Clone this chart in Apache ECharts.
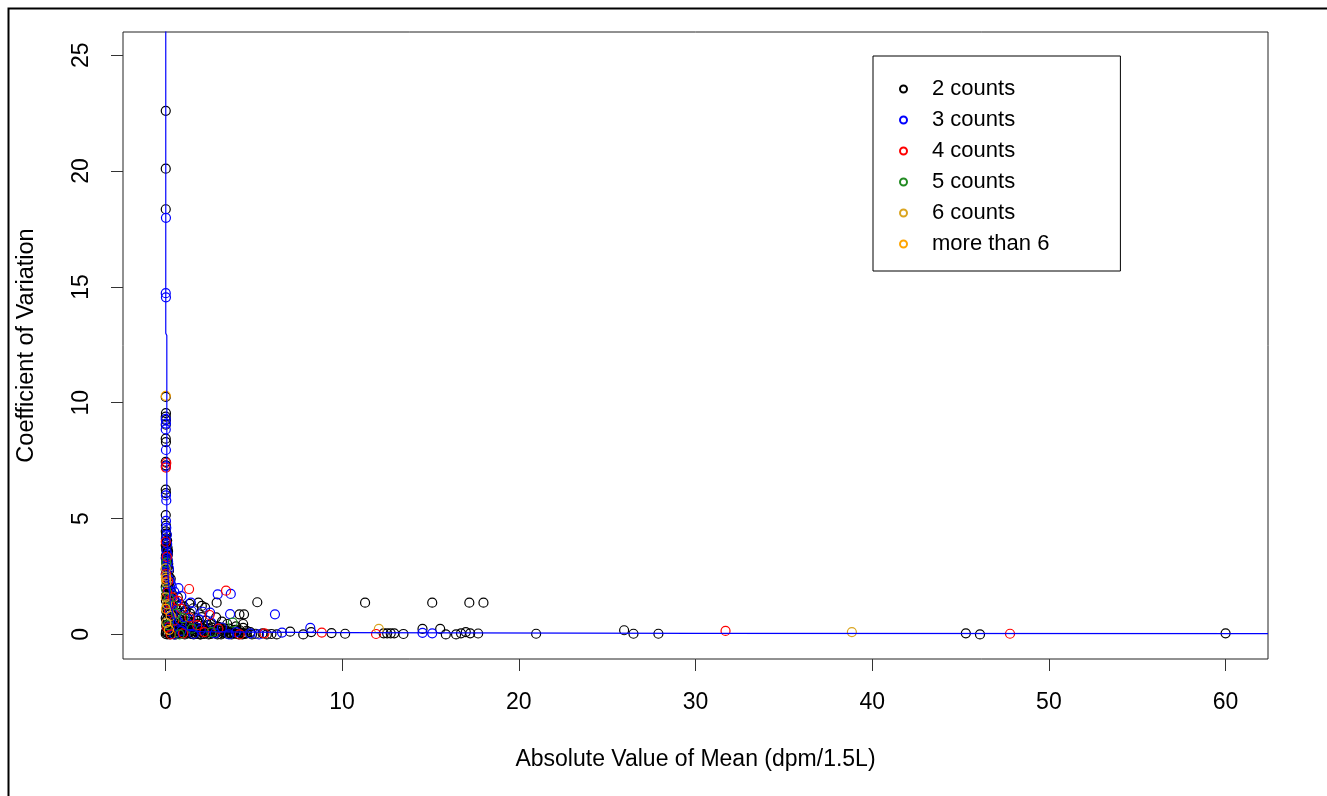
<!DOCTYPE html>
<html>
<head>
<meta charset="utf-8">
<script src="https://cdn.jsdelivr.net/npm/echarts@6/dist/echarts.min.js"></script>
<style>
html,body{margin:0;padding:0;background:#fff;}
#chart{width:1327px;height:796px;}
</style>
</head>
<body>
<div id="chart"></div>
<script>
// ---- data (x = |mean| dpm/1.5L, y = coefficient of variation) ----
const seriesNames = ['2 counts', '3 counts', '4 counts', '5 counts', '6 counts', 'more than 6'];
const xTicks = [0, 10, 20, 30, 40, 50, 60];
const yTicks = [0, 5, 10, 15, 20, 25];

const counts2 = [
  [0.02,22.6],[0.02,20.1],[0.02,18.35],[0.02,10.25],[0.03,9.55],[0.02,9.4],[0.03,9.25],[0.02,9.05],
  [0.02,8.45],[0.03,8.3],[0.02,7.45],[0.03,7.3],[0.02,6.25],[0.03,6.1],[0.02,5.15],[0.03,4.7],
  [0.02,4.45],[0.06,4.3],[0.03,4.15],[0.08,4.0],[0.02,3.85],[0.05,3.7],[0.1,3.55],[0.03,3.4],
  [0.12,3.25],[0.04,3.1],[0.15,2.95],[0.02,2.8],[0.1,2.65],[0.2,2.5],[0.05,2.35],[0.18,2.2],
  [0.02,2.05],[0.25,1.9],[0.08,1.75],[0.3,1.6],[0.03,1.45],[0.15,1.3],[0.35,1.15],[0.05,1.0],
  [0.22,0.85],[0.02,0.7],[0.12,0.55],[0.04,0.4],[0.18,0.25],[0.03,0.1],[0.1,0.0],
  [0.05,4.35],[0.1,4.05],[0.04,3.95],[0.12,3.75],[0.06,3.65],[0.14,3.45],[0.02,3.3],[0.09,3.15],
  [0.16,3.05],[0.06,2.9],[0.2,2.75],[0.12,2.55],[0.03,2.45],[0.24,2.3],[0.08,2.15],[0.28,2.0],
  [0.12,1.85],[0.04,1.7],[0.2,1.55],[0.32,1.4],[0.08,1.25],[0.26,1.1],[0.14,0.95],[0.4,0.8],
  [0.06,0.6],[0.3,0.45],[0.08,0.3],[0.22,0.15],[0.02,0.02],
  [0.3,0.62],[0.55,0.48],[0.8,0.66],[1.05,0.38],[1.3,0.55],[1.6,0.3],[1.9,0.47],[2.15,0.22],
  [2.4,0.4],[2.7,0.15],[3.0,0.33],[3.3,0.1],[3.6,0.25],[3.9,0.05],[4.2,0.18],[4.5,0.02],
  [4.8,0.1],[5.1,0.03],[0.15,0.3],[0.45,0.12],[0.7,0.25],[0.95,0.05],[1.2,0.18],[1.45,0.02],
  [1.75,0.12],[2.0,0.0],[2.3,0.08],[2.55,0.02],[2.85,0.05],[3.15,0.0],[3.45,0.04],[3.75,0.0],
  [4.05,0.02],[4.35,0.0],[0.25,0.0],[0.6,0.0],[0.85,0.1],[1.1,0.0],[1.35,0.08],[1.6,0.0],
  [1.85,0.03],[2.1,0.1],[0.4,0.85],[0.65,1.1],[0.9,0.85],[1.15,1.05],[0.2,1.3],[0.5,1.5],
  [0.35,1.8],[0.15,2.0],[0.6,0.75],[1.4,0.9],[1.7,0.7],[2.3,0.6],[2.6,0.45],[3.2,0.55],
  [3.5,0.45],[4.0,0.35],[4.4,0.28],[5.5,0.05],[5.74,0.0],[6.3,0.0],[6.0,0.02],[7.06,0.12],[7.8,0.0],
  [0.4,0.35],[0.65,0.12],[0.9,0.3],[1.15,0.45],[1.4,0.3],[1.65,0.15],[1.9,0.25],[2.2,0.35],
  [2.45,0.25],[2.75,0.3],[3.05,0.15],[3.35,0.25],[3.65,0.12],[3.95,0.2],[4.25,0.08],[0.5,0.0],
  [0.75,0.02],[1.0,0.15],[1.25,0.05],[1.5,0.12],[1.7,0.02],[1.95,0.0],[2.2,0.02],[2.45,0.0],
  [2.65,0.05],[2.95,0.0],[3.25,0.05],[3.55,0.02],[3.85,0.08],[4.15,0.0],[4.6,0.05],[4.9,0.0],
  [0.35,0.2],[0.55,0.3],[0.75,0.4],[1.0,0.55],[1.25,0.7],[1.55,0.5],[1.8,0.6],[2.05,0.75],
  [0.85,1.3],[1.05,1.2],[0.7,1.6],
  [0.15,0.05],[0.3,0.1],[0.45,0.22],[0.6,0.15],[0.7,0.05],[0.85,0.22],[1.05,0.28],[1.15,0.1],
  [1.3,0.2],[1.55,0.22],[1.75,0.3],[2.0,0.18],[2.1,0.28],[2.35,0.15],[2.55,0.12],[2.6,0.3],
  [2.8,0.2],[3.1,0.25],[3.4,0.15],[3.7,0.05],[4.1,0.12],[4.4,0.05],[0.05,0.15],[0.12,0.7],
  [0.5,0.65],[0.18,1.05],[0.1,1.55],[0.3,2.4],[0.02,2.6],[0.15,3.6],
  [1.87,1.37],[2.25,1.16],[2.06,1.23],[1.36,1.32],[1.58,1.13],[1.1,0.94],[2.87,0.74],[2.9,1.37],
  [5.2,1.39],[4.19,0.87],[4.45,0.87],[4.4,0.45],[4.6,0.16],[9.4,0.06],[10.17,0.03],
  [11.3,1.37],[15.1,1.37],[17.2,1.37],[18.0,1.37],[8.25,0.1],[12.35,0.05],[12.55,0.05],
  [12.75,0.05],[12.95,0.05],[13.47,0.02],[14.55,0.24],[15.55,0.24],[15.87,0.0],[16.45,0.0],
  [16.73,0.05],[17.0,0.1],[17.25,0.05],[17.7,0.04],[20.98,0.03],[25.96,0.18],[26.49,0.03],
  [27.9,0.03],[45.3,0.05],[46.1,0.0],[60.0,0.05]
];
const counts3 = [
  [0.03,17.98],[0.02,14.73],[0.03,14.55],[0.02,9.3],[0.03,9.1],[0.02,8.85],[0.03,7.96],[0.02,7.25],
  [0.03,6.0],[0.05,5.78],[0.03,4.9],[0.05,4.6],[0.08,4.3],[0.03,4.1],[0.1,3.9],[0.06,3.6],
  [0.12,3.45],[0.04,3.3],[0.15,3.15],[0.08,3.0],[0.2,2.85],[0.05,2.7],[0.1,2.5],[0.25,2.35],
  [0.3,2.2],[0.36,2.06],[0.15,1.95],[0.74,2.0],[0.5,1.85],[0.9,1.65],[0.3,1.55],[0.6,1.4],
  [1.44,1.37],[0.2,1.1],[0.8,1.2],[1.5,1.0],[2.1,0.98],[0.4,0.9],[1.1,0.75],[1.9,0.65],
  [0.7,0.55],[2.6,0.5],[1.4,0.4],[0.25,0.35],[3.2,0.3],[2.0,0.2],[0.9,0.15],[4.0,0.1],
  [2.8,0.05],[1.6,0.02],[0.5,0.0],[3.6,0.0],[4.8,0.05],[5.3,0.0],[6.6,0.08],
  [2.96,1.73],[3.7,1.75],[3.66,0.88],[6.2,0.87],[8.2,0.28],[2.53,0.94],[14.55,0.07],[15.1,0.05]
];
const counts4 = [
  [0.03,7.2],[0.05,7.4],[0.02,4.0],[0.08,3.35],[0.04,2.6],[0.15,2.3],[0.1,1.8],[0.4,1.6],
  [0.25,1.35],[0.7,1.45],[1.34,1.96],[3.43,1.89],[0.2,1.0],[0.9,1.1],[2.5,0.84],[1.36,0.73],
  [0.5,0.6],[1.8,0.4],[0.1,0.3],[3.0,0.25],[2.2,0.1],[1.0,0.05],[4.2,0.0],[0.3,0.0],
  [5.6,0.05],[8.85,0.08],[11.92,0.02],[31.7,0.15],[47.8,0.03]
];
const counts5 = [
  [0.05,3.1],[0.03,1.95],[0.2,1.55],[0.45,1.25],[0.6,0.9],[1.0,0.7],[3.81,0.51],
  [0.15,0.4],[1.5,0.25],[2.6,0.1],[0.8,0.0]
];
const counts6 = [
  [0.02,2.85],[0.03,2.5],[0.05,2.25],[0.02,1.6],[0.1,1.3],[0.3,0.8],[0.05,0.5],
  [12.08,0.24],[38.85,0.1]
];
const countsMore = [
  [0.02,10.3],[0.04,2.4],[0.03,1.1],[0.2,0.2]
];
// blue reference curve
const curve = [
  [0.02,26.1],[0.02,13.0],[0.08,12.9],[0.08,4.5],[0.15,2.5],[0.3,1.2],[0.6,0.5],
  [1.2,0.2],[2,0.12],[5,0.1],[10,0.08],[30,0.05],[62.4,0.035]
];
const colors = ['#000000', '#0000FF', '#FF0000', '#228B22', '#DAA520', '#FFA500'];
const allData = [counts2, counts3, counts4, counts5, counts6, countsMore];

const FONT = 'Liberation Sans, Arial, sans-serif';
const chart = echarts.init(document.getElementById('chart'), null, {renderer: 'canvas'});

const scatterSeries = allData.map((d, i) => ({
  name: seriesNames[i],
  type: 'scatter',
  data: d,
  symbol: 'circle',
  symbolSize: 9,
  itemStyle: {color: 'rgba(0,0,0,0)', borderColor: colors[i], borderWidth: 1.2, opacity: 1},
  emphasis: {disabled: true},
  z: 2
}));

chart.setOption({
  animation: false,
  backgroundColor: '#fff',
  textStyle: {fontFamily: FONT},
  grid: {left: 123, top: 32, right: 59, bottom: 137, show: true, borderColor: '#222', borderWidth: 1, backgroundColor: 'transparent'},
  xAxis: {
    type: 'value', min: -2.4, max: 62.4,
    name: 'Absolute Value of Mean (dpm/1.5L)', nameLocation: 'middle', nameGap: 89,
    nameTextStyle: {fontSize: 23, color: '#000', fontFamily: FONT},
    axisLine: {show: false, onZero: false},
    splitLine: {show: false},
    axisTick: {show: true, inside: false, length: 12, lineStyle: {color: '#333', width: 1}, customValues: xTicks},
    axisLabel: {fontSize: 23, color: '#000', margin: 32, fontFamily: FONT, customValues: xTicks, formatter: v => String(v)}
  },
  yAxis: {
    type: 'value', min: -1.06, max: 26.0,
    name: 'Coefficient of Variation', nameLocation: 'middle', nameGap: 84, nameRotate: 90,
    nameTextStyle: {fontSize: 23.5, color: '#000', fontFamily: FONT},
    axisLine: {show: false, onZero: false},
    splitLine: {show: false},
    axisTick: {show: true, inside: false, length: 12, lineStyle: {color: '#333', width: 1}, customValues: yTicks},
    axisLabel: {fontSize: 23, color: '#000', margin: 30, rotate: 90, fontFamily: FONT, customValues: yTicks, formatter: v => String(v)}
  },
  legend: {
    show: true, orient: 'vertical', left: 873, top: 56,
    data: seriesNames.map(n => ({name: n, icon: 'circle'})),
    itemWidth: 7, itemHeight: 7, itemGap: 9,
    padding: [22, 71, 16, 26],
    borderColor: '#000', borderWidth: 1, backgroundColor: '#fff',
    selectedMode: false,
    textStyle: {fontSize: 22, color: '#000', fontFamily: FONT, lineHeight: 22, padding: [0, 0, 0, 20]}
  },
  graphic: [{
    type: 'rect', left: 6, top: 6, silent: true, z: 100,
    shape: {x: 0, y: 0, width: 1400, height: 900},
    style: {fill: 'none', stroke: '#000', lineWidth: 2}
  }],
  series: scatterSeries.concat([{
    name: 'curve', type: 'line', data: curve, showSymbol: false, symbol: 'none',
    lineStyle: {color: '#0000FF', width: 1.2}, clip: true, z: 5, silent: true,
    emphasis: {disabled: true}
  }])
});
</script>
</body>
</html>
